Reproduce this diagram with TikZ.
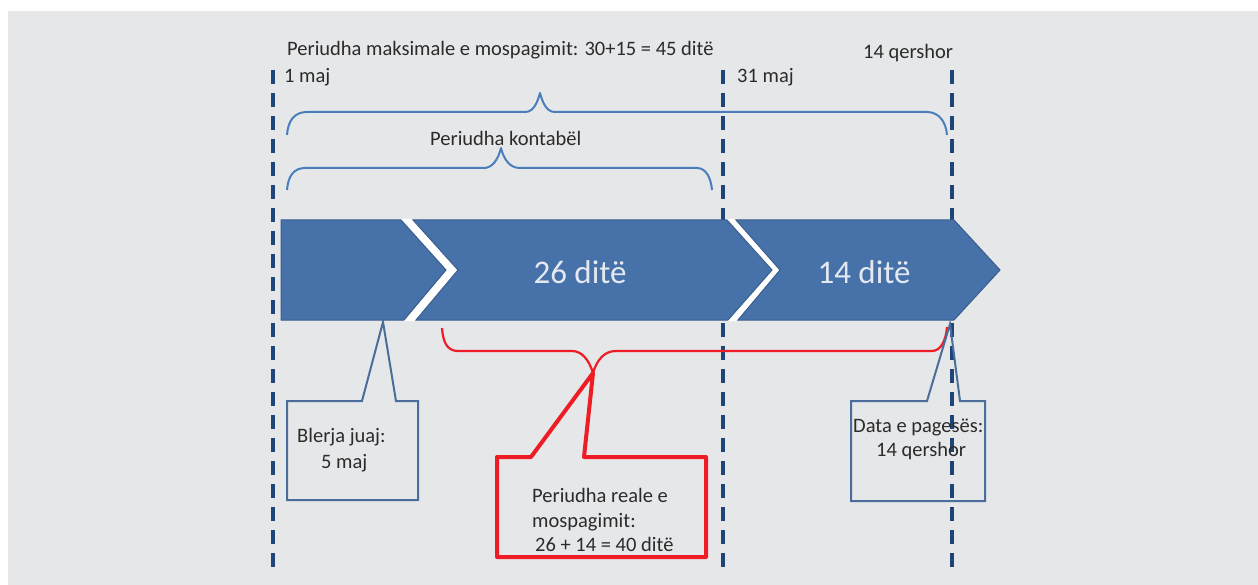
\documentclass[tikz,border=0pt]{standalone}
\usepackage{fontspec}
\setmainfont{Carlito}
\definecolor{bggray}{HTML}{E6E7E9}
\definecolor{navy}{HTML}{1F4478}
\definecolor{braceblue}{HTML}{4A7DBB}
\definecolor{chevfill}{HTML}{4672A9}
\definecolor{chevedge}{HTML}{3B5E8C}
\definecolor{callblue}{HTML}{4A6D9C}
\definecolor{callred}{HTML}{EE1C24}
\definecolor{txt}{HTML}{2B2B2B}
\definecolor{chevtxt}{HTML}{E4E9F1}
\begin{document}
\begin{tikzpicture}[x=1pt,y=-1pt,
  lbl/.style={inner sep=0pt,anchor=west,text=txt,font=\fontsize{20.5}{23}\selectfont},
  dline/.style={draw=navy,line width=4pt,dash pattern=on 14pt off 9pt},
  bracepath/.style={draw=braceblue,line width=2pt,line join=round},
  chev/.style={fill=chevfill,draw=chevedge,line width=1pt},
  chevlabel/.style={inner sep=0pt,text=chevtxt,font=\fontsize{33}{36}\selectfont},
  bluecall/.style={draw=callblue,line width=2pt,line join=miter},
  redcall/.style={draw=callred,line width=4pt,line join=round},
  redbrace/.style={draw=callred,line width=2.2pt,line join=round}]
\useasboundingbox (0,0) rectangle (1258,585);
\fill[bggray] (8,11) rectangle (1258,585);

% dashed vertical lines
\coordinate (d1t) at (273,70); \coordinate (d1b) at (273,575);
\coordinate (d2t) at (723,70); \coordinate (d2b) at (723,575);
\coordinate (d3t) at (952,70); \coordinate (d3b) at (952,575);
\draw[dline] (d1t) -- (d1b);
\draw[dline] (d2t) -- (d2b);
\draw[dline] (d3t) -- (d3b);

% top labels
\node[lbl] (tmax) at (287,50) {Periudha maksimale e mospagimit: 30+15 = 45 ditë};
\node[lbl] (t1maj) at (284,77) {1 maj};
\node[lbl] (t31maj) at (737,77) {31 maj};
\node[lbl] (tqer) at (863,53) {14 qershor};
\node[lbl] (tkont) at (430,138) {Periudha kontabël};

% top brace
\draw[bracepath] (287,135) .. controls (288,120) and (295,112) .. (307,112)
  -- (525,112) .. controls (533,112) and (537,104) .. (540,93)
  .. controls (543,104) and (547,112) .. (555,112)
  -- (927,112) .. controls (939,112) and (946,122) .. (947,135);
% second brace
\draw[bracepath] (287,190) .. controls (288,176) and (294,168) .. (305,168)
  -- (484,168) .. controls (492,168) and (498,160) .. (501,148)
  .. controls (504,160) and (510,168) .. (520,168)
  -- (697,168) .. controls (706,168) and (711,178) .. (712,190);

% white gaps between chevrons
\fill[white] (401,219) -- (413,219) -- (458,270) -- (416,321) -- (404,321) -- (446,270) -- cycle;
\fill[white] (725,219) -- (736,219) -- (780,270) -- (738,321) -- (727,321) -- (772,270) -- cycle;
% chevrons
\draw[chev] (281,220) -- (401,220) -- (446,270) -- (404,320) -- (281,320) -- cycle;
\draw[chev] (413,220) -- (727,220) -- (772,270) -- (728,320) -- (416,320) -- (458,270) -- cycle;
\draw[chev] (736,220) -- (954,220) -- (1000,270) -- (954,320) -- (738,320) -- (780,270) -- cycle;
\node[chevlabel] (c26) at (580,272) {26 ditë};
\node[chevlabel] (c14) at (864,272) {14 ditë};

% red brace
\draw[redbrace] (442,328) .. controls (443,342) and (447,351) .. (458,351)
  -- (572,351) .. controls (582,351) and (589,360) .. (593,373)
  .. controls (597,360) and (604,351) .. (616,351)
  -- (932,351) .. controls (941,351) and (946,340) .. (947,327);

% callout: Blerja juaj
\coordinate (c1tip) at (383,322);
\draw[bluecall] (c1tip) -- (396,401) -- (418,401) -- (418,500) -- (287,500) -- (287,401) -- (362,401) -- cycle;
\node[lbl] (blerja) at (297,437) {Blerja juaj:};
\node[lbl] (maj5) at (321,463) {5 maj};

% callout: Data e pagesës
\coordinate (c3tip) at (950,324);
\draw[bluecall] (c3tip) -- (960,401) -- (985,401) -- (985,501) -- (851,501) -- (851,401) -- (927,401) -- cycle;
\node[lbl] (data) at (853,427) {Data e pagesës:};
\node[lbl] (qer14) at (876,451) {14 qershor};

% red callout
\coordinate (c2tip) at (593,373);
\draw[redcall] (c2tip) -- (584,457) -- (706,457) -- (706,557) -- (497,557) -- (497,457) -- (531,457) -- cycle;
\node[lbl] (reale) at (532,495) {Periudha reale e};
\node[lbl] (mosp) at (532,522) {mospagimit:};
\node[lbl] (sum40) at (535,544) {26 + 14 = 40 ditë};
\end{tikzpicture}
\end{document}
